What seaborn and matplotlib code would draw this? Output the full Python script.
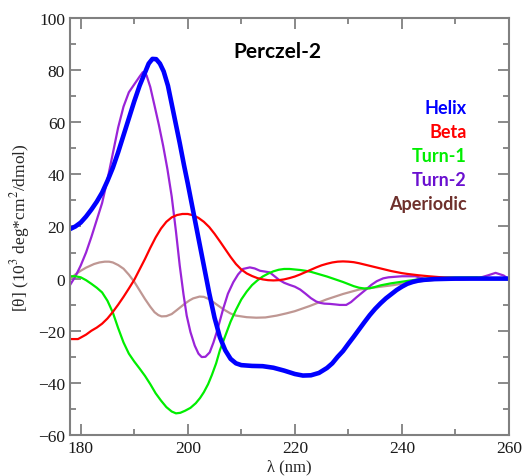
import numpy as np
import pandas as pd
import matplotlib
matplotlib.use("Agg")
import matplotlib.pyplot as plt
import seaborn as sns
from matplotlib.ticker import MultipleLocator

# Far-UV CD basis spectra (Perczel-2 set), mean residue ellipticity in 10^3 deg cm^2/dmol
lam_helix = [178, 179, 180, 181, 182, 183, 184, 185, 186, 187, 188, 189, 190, 191, 192,
             192.7, 193.4, 194.1, 194.8, 195.5, 196.3, 197, 197.7, 198.5, 199.3, 200, 201,
             202, 203, 204, 205, 206, 207, 208, 209, 210, 212, 214, 216, 218, 220, 221.5,
             223, 224.5, 226, 227, 228, 229, 230, 231, 232, 233, 234, 235, 236, 237, 238,
             239, 240, 241, 242, 243, 244, 246, 250, 255, 260]
helix = [19, 20, 21.5, 23.8, 26.5, 29.5, 33, 37.5, 42.5, 48.5, 55, 61.5, 68, 74, 79,
         82.5, 84.3, 84.2, 82.5, 79.5, 74, 67, 60, 52, 43.5, 36.5, 26,
         15.5, 5, -5.5, -15, -22.5, -27.5, -30.8, -32.5, -33.2, -33.5, -33.6, -34.2, -35.3, -36.6, -37.2,
         -37.1, -36.2, -34.3, -32.5, -30, -27.8, -25, -22.3, -19.5, -16.7, -14, -11.6, -9.5, -7.6, -6,
         -4.4, -3.1, -2, -1.3, -0.8, -0.5, -0.2, 0, 0, 0]

lam_beta = [178, 179.5, 181, 182, 183, 184, 185, 186, 187, 188, 189, 190, 191, 192, 193,
            194, 195, 196, 197, 198, 199, 200, 201, 202, 203, 204, 205, 206, 207, 208,
            209, 210, 211, 212, 213, 214, 215, 216, 217, 218, 219, 220, 221, 222, 223,
            224, 225, 226, 227, 228, 229, 230, 231, 232, 233, 234, 235, 236, 237, 238,
            239, 240, 241, 243, 245, 248, 251, 255, 260]
beta = [-23.2, -23.2, -21.5, -20, -18.8, -17.3, -15.3, -12.8, -10, -7, -3.8, -0.5, 3.5, 7.5, 11.8,
        15.8, 19.2, 21.8, 23.5, 24.4, 24.8, 24.8, 24.3, 23.3, 21.8, 19.8, 17.2, 14.3, 11.3, 8.3,
        5.6, 3.5, 2, 1, 0.2, -0.3, -0.6, -0.7, -0.6, -0.3, 0.2, 0.8, 1.6, 2.5, 3.4,
        4.3, 5.1, 5.7, 6.2, 6.5, 6.6, 6.5, 6.3, 5.9, 5.4, 4.9, 4.4, 3.9, 3.4, 2.9,
        2.5, 2.1, 1.8, 1.3, 0.9, 0.4, 0.1, 0, 0]

lam_turn1 = [178, 179, 180, 181, 182, 183, 184, 185, 186, 187, 188, 189, 190, 191, 192,
             193, 194, 195, 196, 197, 197.8, 198.6, 199.5, 200.5, 201.5, 202.3, 203, 203.8,
             204.5, 205.3, 206, 207, 208, 209, 210, 211, 212, 213, 214, 215, 216, 217, 218,
             219, 220, 221, 222, 223, 224, 225, 226, 227, 228, 229, 230, 231, 232, 233, 234,
             235, 236, 238, 240, 243, 247, 254, 260]
turn1 = [0.9, 0.9, 0.5, -0.6, -2, -3.5, -5.3, -8.5, -13, -19, -24.5, -28.8, -31.8, -34.5, -37.3,
         -40.5, -44, -46.8, -49.3, -51, -51.7, -51.5, -50.7, -49.6, -47.8, -45.8, -43.6, -40.5,
         -37, -32.5, -27.5, -22, -16.5, -12, -8, -5, -2.5, -0.7, 0.8, 1.9, 2.8, 3.4, 3.7,
         3.7, 3.5, 3.3, 3, 2.6, 2, 1.4, 0.8, 0.1, -0.6, -1.3, -2.1, -2.9, -3.5, -3.8, -3.7,
         -3.2, -2.6, -1.8, -1.2, -0.3, 0.4, 0.5, -0.3]

lam_turn2 = [178, 179, 180, 181, 182, 183, 184, 185, 186, 187, 188, 189, 190, 191, 191.6,
             192.3, 193, 193.8, 194.6, 195.4, 196.2, 197, 197.8, 198.5, 199.2, 199.8, 200.5,
             201.3, 202, 202.6, 203.3, 204.1, 204.8, 205.4, 206, 206.6, 207.5, 208.5, 209.4,
             210.3, 211.6, 212.5, 213.5, 215.3, 217, 218, 219, 220, 221, 222, 223, 224,
             224.7, 225.5, 226.5, 227.5, 228.4, 229.6, 230.5, 231.5, 232.5, 233.4, 234.3,
             235.3, 236.5, 237.5, 240, 242.5, 244.6, 247, 250.8, 254, 256, 257.5, 259, 260]
turn2 = [-2.5, 0.8, 5, 10, 16, 22.5, 29, 38, 48, 58, 66, 71.5, 74.5, 77.5, 79.2,
         78, 73.5, 66.3, 59, 51, 42, 31.5, 18, 5, -6, -14.2, -20.5,
         -25.7, -28.8, -30.1, -30, -28.3, -24.5, -20.6, -16.2, -11.7, -5.8, -1.4, 1.6,
         3.7, 4.3, 3.9, 3, 2.4, -0.4, -1.6, -2.4, -3.1, -4.2, -5.8, -7.5, -8.8,
         -9.3, -9.6, -9.7, -9.9, -10.1, -10.1, -9, -7.2, -5.5, -4, -2.4,
         -1, 0.1, 0.5, 0.9, 0.9, -0.3, -0.4, -0.4, 0, 1.2, 2.2, 1.2, -0.3]

lam_aper = [178, 179, 180, 181, 182.5, 183.5, 184.5, 185.3, 186, 187, 188, 189, 190, 191, 192,
            193, 193.8, 194.5, 195.1, 196, 197, 198, 199.4, 200.3, 201, 202.2, 203, 204,
            205.3, 206.6, 208, 209, 211, 212.8, 214.5, 216.6, 218.5, 220, 222.8, 225.9,
            229, 232, 235.3, 238.4, 241.5, 244.6, 247.7, 252, 260]
aper = [-0.2, 1.6, 3, 4.2, 5.6, 6.2, 6.5, 6.5, 6.2, 5.2, 3.8, 1.5, -1.2, -4.5, -7.8,
        -10.8, -12.9, -14, -14.5, -14.4, -13.6, -12, -9.7, -8.4, -7.6, -6.9, -7, -7.9,
        -9.8, -11.7, -13.4, -14.2, -14.8, -15, -14.9, -14.2, -13.3, -12.5, -10.5, -8,
        -5.9, -4.2, -3.3, -2.5, -1.4, -0.8, -0.2, 0, 0]

names = ["Helix", "Beta", "Turn-1", "Turn-2", "Aperiodic"]
line_colors = ["#0000ff", "#ff0000", "#00ee00", "#9a24d8", "#bf9793"]
text_colors = ["#0000ff", "#ff0000", "#00ee00", "#6a10d0", "#6e302c"]
widths = [3.3, 1.6, 1.6, 1.6, 1.6]

frames = []
for name, lam, val in zip(names,
                          [lam_helix, lam_beta, lam_turn1, lam_turn2, lam_aper],
                          [helix, beta, turn1, turn2, aper]):
    frames.append(pd.DataFrame({"wavelength": lam, "theta": val, "structure": name}))
df = pd.concat(frames, ignore_index=True)

sns.set_style("ticks")
plt.rcParams["mathtext.fontset"] = "stix"
serif = ["Liberation Serif", "DejaVu Serif"]
sans = ["Lato", "Open Sans", "DejaVu Sans"]

fig = plt.figure(figsize=(5.25, 4.77), dpi=100)
ax = fig.add_axes([0.1333, 0.086, 0.8362, 0.8742])

# draw the four thin spectra first, the helix on top
for name, col, lw in list(zip(names, line_colors, widths))[::-1]:
    sub = df[df["structure"] == name]
    sns.lineplot(data=sub, x="wavelength", y="theta", color=col, linewidth=lw,
                 estimator=None, sort=False, ax=ax, legend=False,
                 solid_joinstyle="round", solid_capstyle="round")

ax.set_xlim(178, 260)
ax.set_ylim(-60, 100)
ax.xaxis.set_major_locator(MultipleLocator(20))
ax.xaxis.set_minor_locator(MultipleLocator(10))
ax.yaxis.set_major_locator(MultipleLocator(20))
ax.yaxis.set_minor_locator(MultipleLocator(10))
ax.tick_params(which="both", direction="in", top=True, right=True, color="#808080", width=1.3)
ax.tick_params(which="major", length=8)
ax.tick_params(which="minor", length=4.5)
for s in ax.spines.values():
    s.set_color("#808080")
    s.set_linewidth(1.5)
for lab in ax.get_xticklabels() + ax.get_yticklabels():
    lab.set_family(serif)
    lab.set_fontsize(12.5)
    lab.set_color("#1a1a1a")

ax.set_xlabel("λ (nm)", family=serif, fontsize=12, labelpad=2)
ax.set_ylabel(r"[θ] (10$^{3}$ deg*cm$^{2}$/dmol)", family=serif, fontsize=12.5, labelpad=4)

ax.text(0.472, 0.921, "Perczel-2", transform=ax.transAxes, ha="center", va="center",
        family=sans, fontweight="bold", fontsize=15, color="black")
for i, (name, col) in enumerate(zip(names, text_colors)):
    ax.text(0.904, 0.785 - i * 0.0575, name, transform=ax.transAxes, ha="right", va="center",
            family=sans, fontweight="bold", fontsize=13, color=col)

fig.savefig("out.png", dpi=100)
